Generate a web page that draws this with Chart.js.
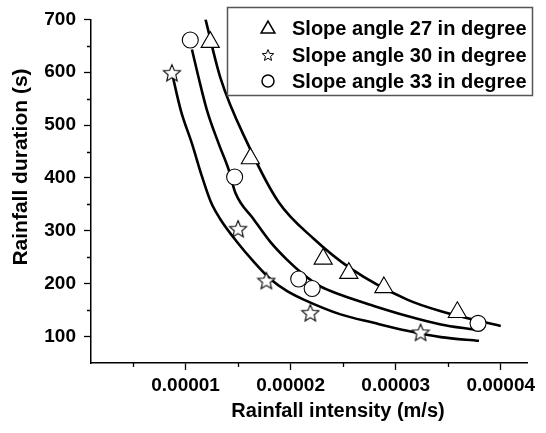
<!DOCTYPE html>
<html><head><meta charset="utf-8">
<script src="https://cdn.jsdelivr.net/npm/chart.js@4.4.1/dist/chart.umd.min.js"></script>
<style>html,body{margin:0;padding:0;background:#fff}#wrap{width:546px;height:433px}</style>
</head><body><div id="wrap"><canvas id="c" width="546" height="433"></canvas></div>
<script>
// ---- data ----
const seriesLabels = ['Slope angle 27 in degree', 'Slope angle 30 in degree', 'Slope angle 33 in degree'];
const slope27X = [1.235e-5, 1.617e-5, 2.31e-5, 2.554e-5, 2.888e-5, 3.587e-5];
const slope27Y = [657, 437, 247, 220, 193, 146];
const slope30X = [0.870e-5, 1.50e-5, 1.769e-5, 2.188e-5, 3.237e-5];
const slope30Y = [599, 304, 206, 145, 108];
const slope33X = [1.045e-5, 1.467e-5, 2.077e-5, 2.205e-5, 3.784e-5];
const slope33Y = [661, 402, 209, 191, 125];
// fitted curves
const fit27X = [1.19e-5, 1.331e-5, 1.591e-5, 1.887e-5, 2.22e-5, 2.57e-5, 3.11e-5, 3.43e-5, 4.0e-5];
const fit27Y = [700, 590, 465, 354, 285, 229, 170, 148, 120];
const fit30X = [0.87e-5, 0.956e-5, 1.061e-5, 1.156e-5, 1.242e-5, 1.331e-5, 1.49e-5, 1.648e-5, 1.807e-5, 1.967e-5, 2.125e-5, 2.475e-5, 2.792e-5, 3.11e-5, 3.43e-5, 3.793e-5];
const fit30Y = [599, 527, 465, 403, 354, 322, 279, 242, 209, 186, 170, 142, 126, 111, 99, 92];
const fit33X = [1.061e-5, 1.124e-5, 1.204e-5, 1.315e-5, 1.41e-5, 1.474e-5, 1.648e-5, 1.807e-5, 1.967e-5, 2.125e-5, 2.284e-5, 2.475e-5, 2.792e-5, 3.11e-5, 3.43e-5, 3.75e-5];
const fit33Y = [643, 590, 528, 465, 416, 372, 322, 279, 245, 217, 195, 179, 158, 139, 123, 113];
// axis ticks
const xTickValues = [0.00001, 0.00002, 0.00003, 0.00004];
const xTickLabels = ['0.00001', '0.00002', '0.00003', '0.00004'];
const xMinorTicks = [0.000005, 0.000015, 0.000025, 0.000035];
const yTickValues = [100, 200, 300, 400, 500, 600, 700];
const yTickLabels = ['100', '200', '300', '400', '500', '600', '700'];
const yMinorTicks = [150, 250, 350, 450, 550, 650];
const xTitle = 'Rainfall intensity (m/s)';
const yTitle = 'Rainfall duration (s)';

const FONT = '"Liberation Sans", Arial, Helvetica, sans-serif';
const pts = (xs, ys) => xs.map((x, i) => ({x: x, y: ys[i]}));

function makeStar(size, lw) {
  const c = document.createElement('canvas');
  c.width = size; c.height = size;
  const g = c.getContext('2d');
  const cx = size / 2, cy = size / 2 + size * 0.04;
  const R = size / 2 - lw, r = R * 0.45;
  g.beginPath();
  for (let i = 0; i < 10; i++) {
    const a = -Math.PI / 2 + i * Math.PI / 5;
    const rr = i % 2 === 0 ? R : r;
    const px = cx + rr * Math.cos(a), py = cy + rr * Math.sin(a);
    if (i === 0) g.moveTo(px, py); else g.lineTo(px, py);
  }
  g.closePath();
  g.fillStyle = '#fff'; g.fill();
  g.lineWidth = lw; g.strokeStyle = '#000'; g.lineJoin = 'miter'; g.stroke();
  return c;
}
const starBig = makeStar(20, 1.1);
const starSmall = makeStar(14, 1.0);

const curveStyle = {showLine: true, borderColor: '#000', borderWidth: 2.6, pointRadius: 0, pointHoverRadius: 0,
  cubicInterpolationMode: 'monotone', fill: false, order: 2};
const markStyle = {showLine: false, borderColor: '#000', backgroundColor: '#fff', pointBorderWidth: 1.1, order: 1};

const minorTicks = {
  id: 'minorTicks',
  afterDraw(chart) {
    const ctx = chart.ctx, xs = chart.scales.x, ys = chart.scales.y;
    ctx.save();
    ctx.strokeStyle = '#000'; ctx.lineWidth = 1.3;
    ctx.beginPath();
    xMinorTicks.forEach(v => { const p = Math.round(xs.getPixelForValue(v)) + 0.5; ctx.moveTo(p, xs.top); ctx.lineTo(p, xs.top + 4); });
    yMinorTicks.forEach(v => { const p = Math.round(ys.getPixelForValue(v)) + 0.5; ctx.moveTo(ys.right, p); ctx.lineTo(ys.right - 4, p); });
    ctx.stroke();
    ctx.restore();
  }
};

const axisTitles = {
  id: 'axisTitles',
  afterDraw(chart) {
    const ctx = chart.ctx;
    ctx.save();
    ctx.fillStyle = '#000';
    ctx.textAlign = 'center';
    ctx.textBaseline = 'middle';
    ctx.font = 'bold 20px ' + FONT;
    ctx.fillText(xTitle, 338, 411);
    ctx.translate(21, 167);
    ctx.rotate(-Math.PI / 2);
    ctx.font = 'bold 21px ' + FONT;
    ctx.fillText(yTitle, 0, 0);
    ctx.restore();
  }
};

const boxLegend = {
  id: 'boxLegend',
  afterDraw(chart) {
    const ctx = chart.ctx;
    ctx.save();
    ctx.fillStyle = '#fff';
    ctx.fillRect(227, 7, 306, 89);
    ctx.strokeStyle = '#555'; ctx.lineWidth = 1.5;
    ctx.strokeRect(227.5, 7.5, 305, 88);
    const rows = [28, 55, 81];
    const styles = [
      {pointStyle: 'triangle', radius: 8, borderWidth: 1.1},
      {pointStyle: starSmall, radius: 7, borderWidth: 1},
      {pointStyle: 'circle', radius: 6, borderWidth: 1.1}
    ];
    ctx.font = 'bold 20px ' + FONT;
    ctx.textBaseline = 'middle';
    ctx.textAlign = 'left';
    seriesLabels.forEach((lab, i) => {
      ctx.save();
      ctx.strokeStyle = '#000'; ctx.fillStyle = '#fff';
      Chart.helpers.drawPoint(ctx, styles[i], 268, rows[i] + (i === 0 ? 1 : 0));
      ctx.restore();
      ctx.fillStyle = '#000';
      ctx.fillText(lab, 292, rows[i] + 1);
    });
    ctx.restore();
  }
};

new Chart(document.getElementById('c'), {
  type: 'scatter',
  data: {
    datasets: [
      Object.assign({label: 'fit27', data: pts(fit27X, fit27Y)}, curveStyle),
      Object.assign({label: 'fit30', data: pts(fit30X, fit30Y)}, curveStyle),
      Object.assign({label: 'fit33', data: pts(fit33X, fit33Y)}, curveStyle),
      Object.assign({label: seriesLabels[0], data: pts(slope27X, slope27Y), pointStyle: 'triangle', pointRadius: 10.5}, markStyle),
      Object.assign({label: seriesLabels[1], data: pts(slope30X, slope30Y), pointStyle: starBig, pointRadius: 10}, markStyle),
      Object.assign({label: seriesLabels[2], data: pts(slope33X, slope33Y), pointStyle: 'circle', pointRadius: 8}, markStyle)
    ]
  },
  options: {
    responsive: false, devicePixelRatio: 1, animation: false,
    layout: {padding: {left: 0, right: 19, top: 14, bottom: 0}},
    plugins: {legend: {display: false}, tooltip: {enabled: false}},
    scales: {
      x: {
        type: 'linear', position: 'bottom', min: 0.000001, max: 0.0000425,
        afterBuildTicks: s => { s.ticks = xTickValues.map(v => ({value: v})); },
        afterFit: s => { s.height = 70; },
        ticks: {callback: (v, i) => xTickLabels[i], color: '#000', font: {family: FONT, size: 19, weight: 'bold'}, padding: 4, maxRotation: 0, autoSkip: false},
        grid: {display: true, drawOnChartArea: false, drawTicks: true, tickLength: 7, tickWidth: 1.3, tickColor: '#000'},
        border: {display: true, color: '#000', width: 1.5},
        title: {display: false}
      },
      y: {
        type: 'linear', position: 'left', min: 50, max: 700,
        afterBuildTicks: s => { s.ticks = yTickValues.map(v => ({value: v})); },
        afterFit: s => { s.width = 91; },
        ticks: {callback: (v, i) => yTickLabels[i], color: '#000', font: {family: FONT, size: 19, weight: 'bold'}, padding: 8, autoSkip: false},
        grid: {display: true, drawOnChartArea: false, drawTicks: true, tickLength: 7, tickWidth: 1.3, tickColor: '#000'},
        border: {display: true, color: '#000', width: 1.5},
        title: {display: false}
      }
    }
  },
  plugins: [minorTicks, axisTitles, boxLegend]
});
</script>
</body></html>
